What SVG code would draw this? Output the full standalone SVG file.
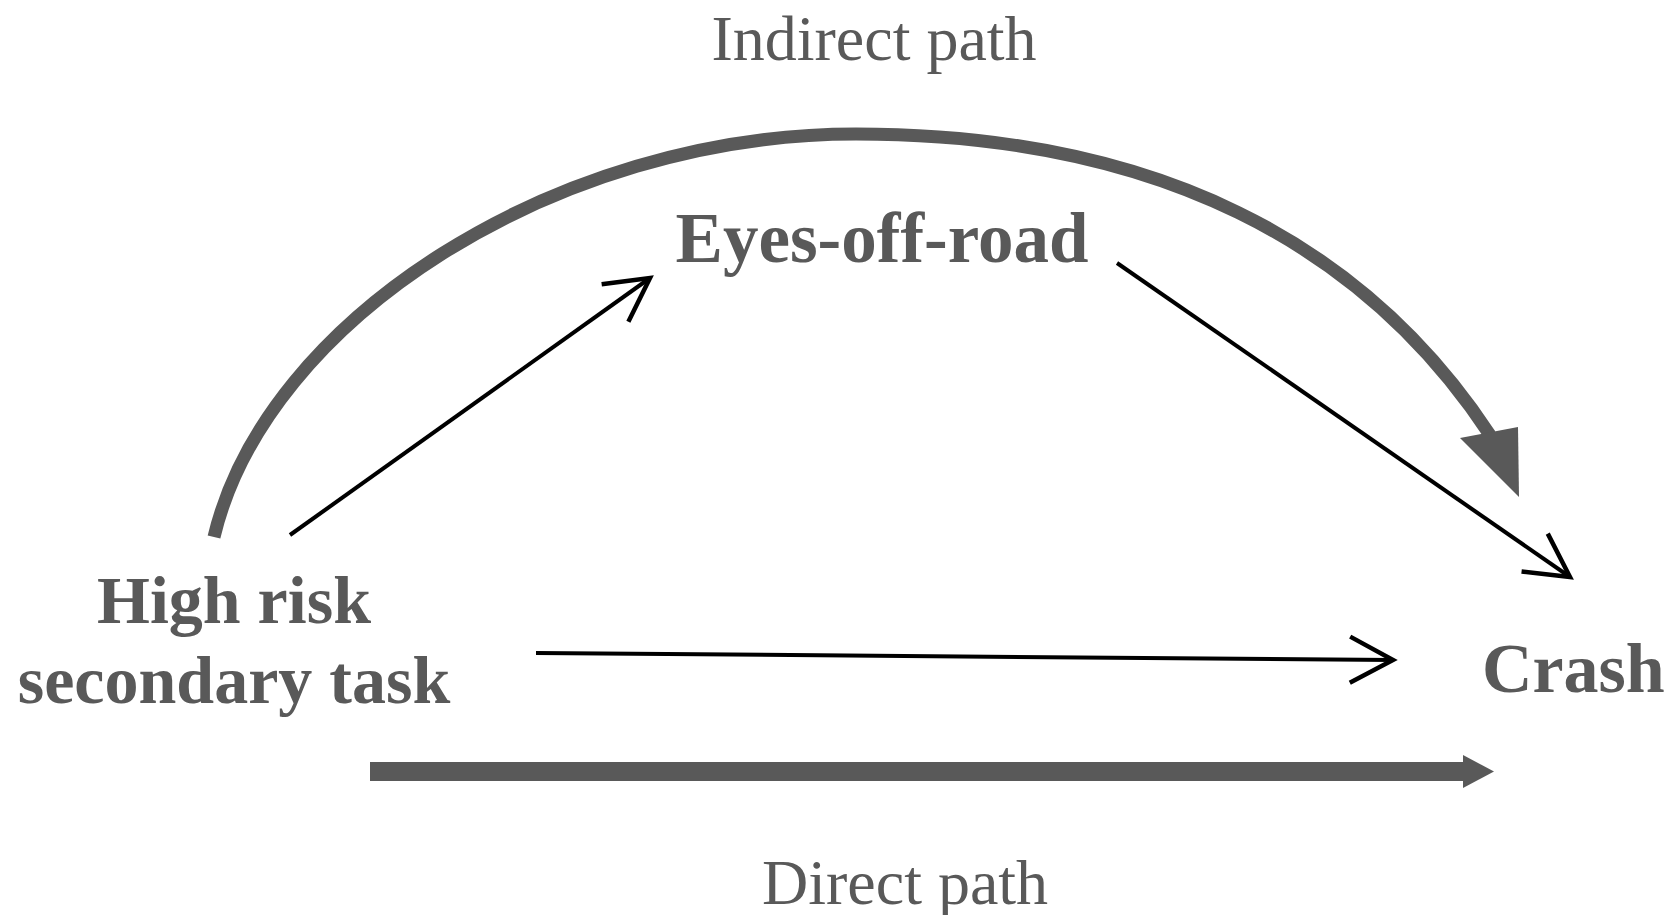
<svg xmlns="http://www.w3.org/2000/svg" width="1678" height="915" viewBox="0 0 1678 915">
  <style>
    .lbl { font-family: "Liberation Serif", "Times New Roman", serif; fill: #595959; }
    .node { font-weight: bold; }
    .path-lbl { font-weight: normal; font-size: 64px; }
    .thin { fill: none; stroke: #000000; stroke-width: 4; marker-end: url(#chev); }
    .thick { fill: none; stroke: #595959; }
    .head { fill: #595959; stroke: none; }
  </style>
  <defs>
    <marker id="chev" markerUnits="userSpaceOnUse" viewBox="-50 -30 60 60" refX="0" refY="0" markerWidth="60" markerHeight="60" orient="auto" overflow="visible">
      <path d="M-43,-23 L0,0 L-43,23" fill="none" stroke="#000000" stroke-width="4.5" stroke-linejoin="miter"/>
    </marker>
  </defs>
  <rect x="0" y="0" width="1678" height="915" fill="#ffffff"/>

  <g id="connectors">
    <!-- indirect path thick curve -->
    <path class="thick" stroke-width="13" d="M214,537 C266,319 556,134 856,134 C1156,134 1363.5,243 1490,435"/>
    <polygon class="head" points="1460,438 1518,427 1519,497"/>
    <!-- direct path thick arrow -->
    <rect class="head" x="370" y="762" width="1095" height="19"/>
    <polygon class="head" points="1463,755 1494,771.5 1463,788"/>
    <!-- thin arrows -->
    <line class="thin" x1="290" y1="535" x2="650" y2="278"/>
    <line class="thin" x1="1117" y1="263" x2="1570" y2="577"/>
    <line class="thin" x1="536" y1="653" x2="1393" y2="660"/>
  </g>

  <g id="label-indirect">
    <text class="lbl path-lbl" x="874" y="60" text-anchor="middle">Indirect path</text>
  </g>
  <g id="node-eyes">
    <text class="lbl node" x="882" y="262" font-size="71" text-anchor="middle">Eyes-off-road</text>
  </g>
  <g id="node-task">
    <text class="lbl node" x="234" y="623" font-size="68" text-anchor="middle">High risk</text>
    <text class="lbl node" x="234" y="703" font-size="68" text-anchor="middle">secondary task</text>
  </g>
  <g id="node-crash">
    <text class="lbl node" x="1482" y="692" font-size="70">Crash</text>
  </g>
  <g id="label-direct">
    <text class="lbl path-lbl" x="762" y="904">Direct path</text>
  </g>
</svg>
